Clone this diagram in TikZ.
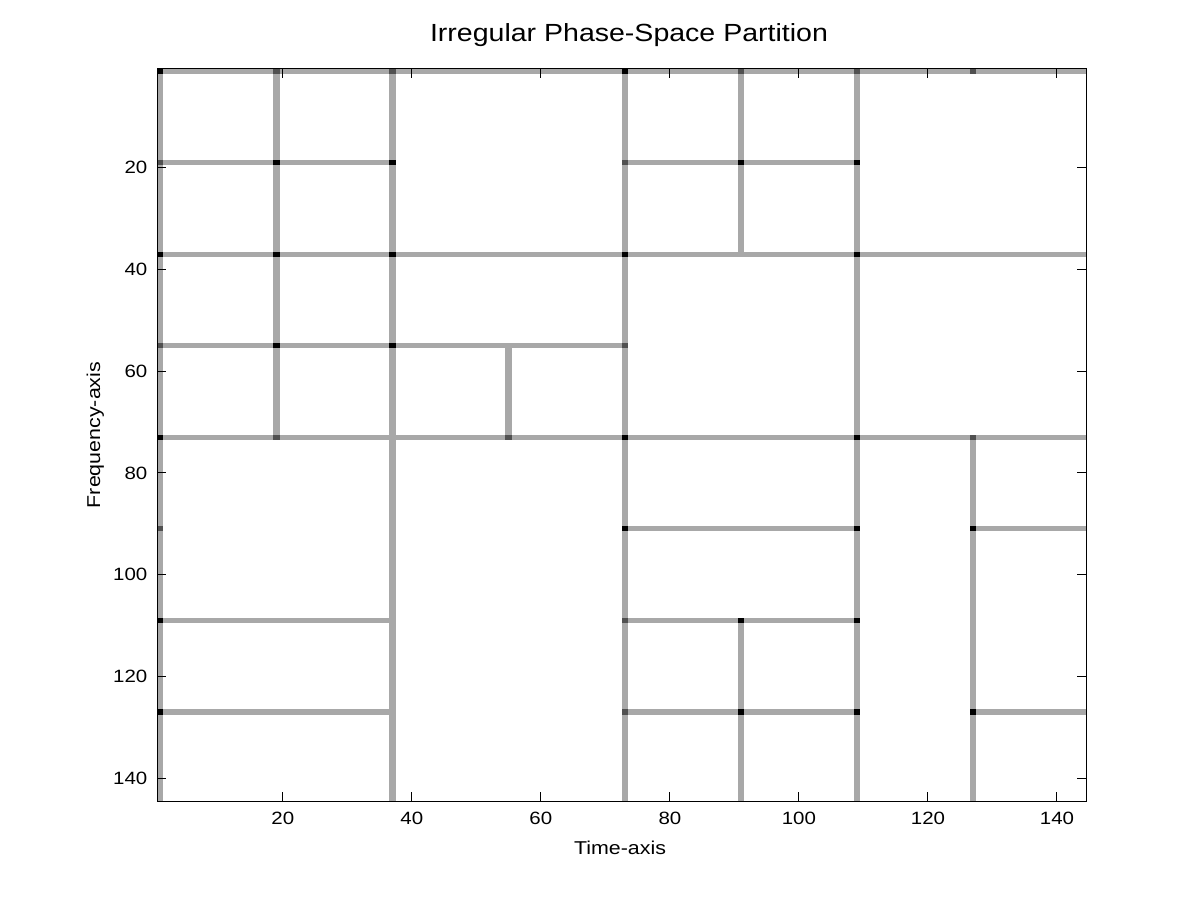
\documentclass[tikz,border=0pt]{standalone}
\usepackage{fontspec}
\setmainfont{Liberation Sans}[FakeStretch=1.15]
\definecolor{linegray}{RGB}{168,168,168}
\definecolor{dotgray}{RGB}{80,80,80}
\tikzset{
  tickfont/.style={font=\fontsize{17.8}{21}\selectfont, inner sep=0pt},
  labelfont/.style={font=\fontsize{18.6}{22}\selectfont, inner sep=0pt},
  titlefont/.style={font=\fontsize{24.8}{29}\selectfont, inner sep=0pt},
  partline/.style={fill=linegray},
  cornerdot/.style={fill=black},
  cornerdotgray/.style={fill=dotgray},
  axisline/.style={draw=black, line width=1pt},
  ticktick/.style={draw=black, line width=1pt}
}
\begin{document}
\begin{tikzpicture}[x=1pt,y=-1pt]
\useasboundingbox (0,0) rectangle (1200,900);
\fill[white] (0,0) rectangle (1200,900);
\begin{scope}[shift={(153.774pt,-65.957pt)}, x=6.45139pt, y=-5.08681pt]
  % horizontal partition lines: row / from column / to column
  \foreach \r/\a/\b in {1/1/144, 19/1/37, 19/73/109, 37/1/144, 55/1/73, 73/1/144,
                        91/73/109, 91/127/144, 109/1/37, 109/73/109,
                        127/1/37, 127/73/109, 127/127/144}
    \fill[partline] (\a-0.5,\r-0.5) rectangle (\b+0.5,\r+0.5);
  % vertical partition lines: column / from row / to row
  \foreach \c/\a/\b in {1/1/144, 19/1/73, 37/1/144, 55/55/73, 73/1/144,
                        91/1/37, 91/109/144, 109/1/144, 127/73/144}
    \fill[partline] (\c-0.5,\a-0.5) rectangle (\c+0.5,\b+0.5);
  % black corner marks
  \foreach \x/\y in {1/1, 19/19, 37/19, 1/37, 19/37, 37/37, 73/1, 91/19, 73/37,
                     109/19, 109/37, 19/55, 37/55, 1/73, 73/73, 73/91, 109/73,
                     109/91, 127/91, 1/109, 1/127, 91/109, 91/127, 109/109,
                     109/127, 127/127}
    \fill[cornerdot] (\x-0.5,\y-0.5) rectangle (\x+0.5,\y+0.5);
  % dark grey corner marks
  \foreach \x/\y in {19/1, 37/1, 1/19, 91/1, 73/19, 109/1, 127/1, 1/55, 19/73,
                     1/91, 55/73, 73/55, 127/73, 73/109, 73/127}
    \fill[cornerdotgray] (\x-0.5,\y-0.5) rectangle (\x+0.5,\y+0.5);
  % axes box
  \draw[axisline] (0.5,0.5) rectangle (144.5,144.5);
  % ticks and tick labels
  \foreach \d in {20,40,...,140} {
    \draw[ticktick] (\d,144.5) -- ++(0pt,9.3pt);
    \draw[ticktick] (\d,0.5) -- ++(0pt,-9.3pt);
    \draw[ticktick] (0.5,\d) -- ++(9.3pt,0pt);
    \draw[ticktick] (144.5,\d) -- ++(-9.3pt,0pt);
    \path (\d,144.5) ++(0pt,-23pt) node[tickfont, anchor=base] (xt\d) {\d};
    \path (0.5,\d) ++(-9.5pt,0pt) node[tickfont, anchor=east] (yt\d) {\d};
  }
\end{scope}
\node[titlefont, anchor=base] (title) at (629,41) {Irregular Phase-Space Partition};
\node[labelfont, anchor=base] (xlab) at (620,854) {Time-axis};
\node[labelfont, anchor=base, rotate=90] (ylab) at (100,435) {Frequency-axis};
\end{tikzpicture}
\end{document}
